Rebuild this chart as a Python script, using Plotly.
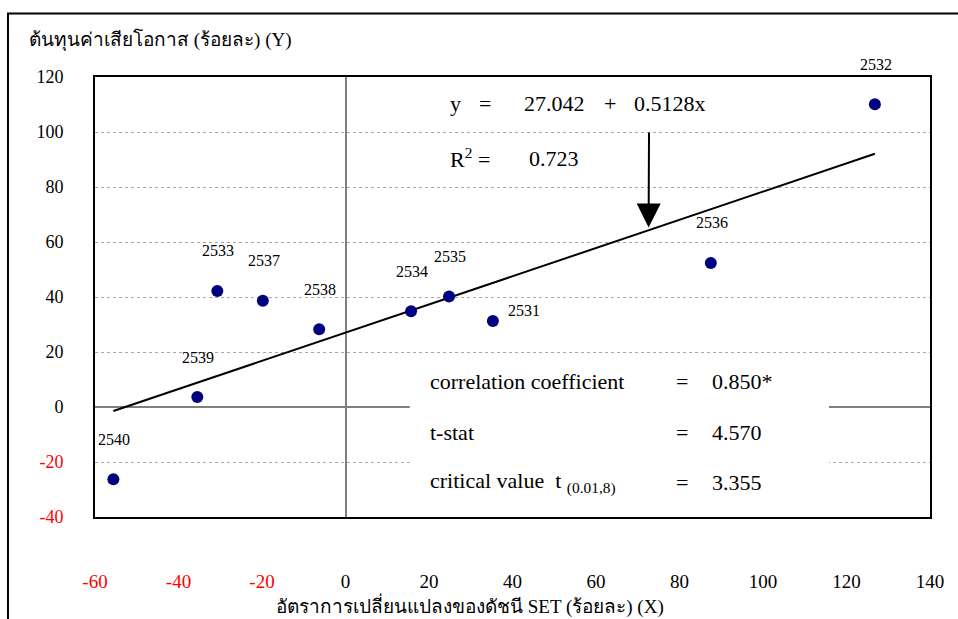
import plotly.graph_objects as go

# Yearly observations (Buddhist-era years)
years = ["2531", "2532", "2533", "2534", "2535", "2536", "2537", "2538", "2539", "2540"]
set_change = [35.3, 126.8, -30.7, 15.7, 24.8, 87.5, -19.8, -6.3, -35.5, -55.6]   # X (%)
opp_cost = [31.3, 110.1, 42.2, 34.8, 40.2, 52.4, 38.6, 28.3, 3.6, -26.3]        # Y (%)

# Fitted regression and test statistics
intercept = 27.042
slope = 0.5128
r_squared = 0.723
corr_coef = "0.850*"
t_stat = "4.570"
t_crit = "3.355"

x_ticks = [-60, -40, -20, 0, 20, 40, 60, 80, 100, 120, 140]
y_ticks = [-40, -20, 0, 20, 40, 60, 80, 100, 120]

FONT = "Times New Roman, Liberation Serif, DejaVu Serif, serif"
RED = "#FF0000"


def tick_label(v):
    return f"<span style='color:{RED}'>{v}</span>" if v < 0 else str(v)


fig = go.Figure()

# Regression line across the observed range of X
x_lo, x_hi = min(set_change), max(set_change)
fig.add_trace(go.Scatter(
    x=[x_lo, x_hi],
    y=[intercept + slope * x_lo, intercept + slope * x_hi],
    mode="lines", line=dict(color="black", width=2),
    hoverinfo="skip", showlegend=False,
))

# Observations
fig.add_trace(go.Scatter(
    x=set_change, y=opp_cost, mode="markers",
    marker=dict(color="#000080", size=12),
    text=years, hovertemplate="%{text}: (%{x}, %{y})<extra></extra>",
    showlegend=False,
))

annotations = []

# Year labels, above each point (2531 sits to the right)
label_shift = {"2531": (31, 10)}
for yr, xv, yv in zip(years, set_change, opp_cost):
    dx, dy = label_shift.get(yr, (1, 40))
    annotations.append(dict(
        x=xv, y=yv, text=yr, showarrow=False, xshift=dx, yshift=dy,
        font=dict(family=FONT, size=16, color="black"),
    ))

eq_font = dict(family=FONT, size=22, color="black")


def txt(x, y, s, anchor="left"):
    return dict(x=x, y=y, text=s, showarrow=False, xanchor=anchor,
                yanchor="middle", font=eq_font)


# Regression equation and R²
annotations += [
    txt(24.6, 110.5, "y"),
    txt(33.4, 110.5, "=", "center"),
    txt(42.3, 110.5, f"{intercept:.3f}"),
    txt(63.4, 110.5, "+", "center"),
    txt(68.6, 110.5, f"{slope:.4f}x"),
    txt(24.6, 90.5, "R<sup>2</sup> ="),
    txt(43.5, 90.5, f"{r_squared:.3f}"),
]

# Arrow pointing at the fitted line
annotations.append(dict(
    x=72.6, y=65.3, ax=72.7, ay=100.4, axref="x", ayref="y",
    text="", showarrow=True, arrowhead=2, arrowsize=2.4, arrowwidth=2,
    arrowcolor="black", standoff=0,
))

# Test statistics panel
rows = [
    ("correlation coefficient", corr_coef, 9.45),
    ("t-stat", t_stat, -9.1),
    ("critical value  t <sub>(0.01,8)</sub>", t_crit, -27.6),
]
for label, val, yv in rows:
    annotations += [
        txt(19.8, yv, label),
        txt(80.6, yv, "=", "center"),
        txt(87.3, yv, val),
    ]

# Axis titles
annotations.append(dict(
    x=-0.081, y=1.084, xref="paper", yref="paper", xanchor="left", yanchor="middle",
    text="ต้นทุนค่าเสียโอกาส (ร้อยละ) (Y)", showarrow=False,
    font=dict(family=FONT, size=19, color="black"),
))
annotations.append(dict(
    x=0.449, y=-0.2, xref="paper", yref="paper", xanchor="center", yanchor="middle",
    text="อัตราการเปลี่ยนแปลงของดัชนี SET (ร้อยละ) (X)", showarrow=False,
    font=dict(family=FONT, size=19, color="black"),
))

shapes = [
    # white panel behind the statistics
    dict(type="rect", xref="x", yref="y", x0=15.4, x1=115.8, y0=-39.2, y1=19.6,
         fillcolor="white", line=dict(width=0), layer="between"),
    # outer chart frame
    dict(type="rect", xref="paper", yref="paper", x0=-0.1042, x1=1.2,
         y0=-0.4, y1=1.1443, line=dict(color="black", width=2),
         fillcolor="rgba(0,0,0,0)", layer="above"),
]

fig.update_layout(
    width=958, height=619,
    margin=dict(l=95, r=28, t=77, b=102),
    paper_bgcolor="white", plot_bgcolor="white",
    font=dict(family=FONT, size=18, color="black"),
    showlegend=False,
    annotations=annotations,
    shapes=shapes,
    xaxis=dict(
        range=[-60, 140], tickvals=x_ticks,
        ticktext=[tick_label(v) for v in x_ticks],
        tickfont=dict(family=FONT, size=19, color="black"),
        ticks="", ticklabelstandoff=46,
        showgrid=False,
        zeroline=True, zerolinecolor="#7f7f7f", zerolinewidth=2,
        showline=True, linecolor="black", linewidth=2, mirror=True,
        fixedrange=True,
    ),
    yaxis=dict(
        range=[-40, 120], tickvals=y_ticks,
        ticktext=[tick_label(v) for v in y_ticks],
        tickfont=dict(family=FONT, size=18, color="black"),
        ticks="", ticklabelstandoff=26,
        showgrid=True, gridcolor="#a6a6a6", gridwidth=1, griddash="dot",
        zeroline=True, zerolinecolor="#7f7f7f", zerolinewidth=2,
        showline=True, linecolor="black", linewidth=2, mirror=True,
        fixedrange=True,
    ),
)

fig.write_html("out.html")
